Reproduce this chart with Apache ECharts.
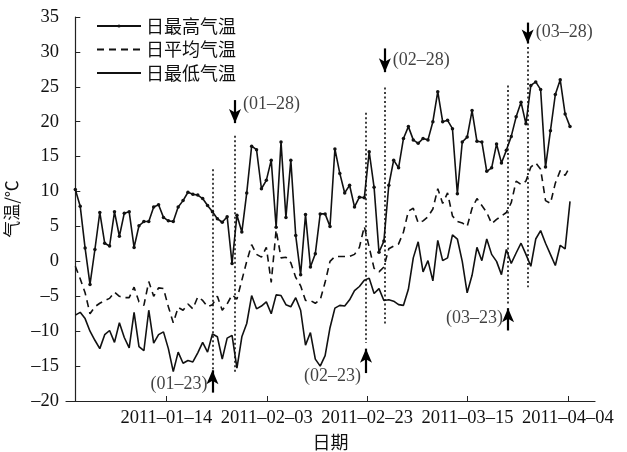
<!DOCTYPE html>
<html>
<head>
<meta charset="utf-8">
<script src="https://cdn.jsdelivr.net/npm/echarts@6/dist/echarts.min.js"></script>
<style>
  html, body { margin: 0; padding: 0; background: #fff; }
  #chart { width: 627px; height: 452px; }
</style>
</head>
<body>
<div id="chart"></div>
<script>
// Daily temperatures, one value per day (index 0 = first day of the record)
const seriesNames = ['日最高气温', '日平均气温', '日最低气温'];

const tMax = [10.3, 7.9, 1.9, -3.3, 1.7, 7.0, 2.6, 2.2, 7.1, 3.6,
  6.9, 7.1, 2.0, 5.1, 5.7, 5.7, 7.8, 8.1, 6.3, 5.8,
  5.7, 7.8, 8.7, 9.9, 9.6, 9.5, 9.0, 8.0, 7.1, 6.1,
  5.6, 6.4, -0.3, 6.6, 4.2, 9.8, 16.5, 16.0, 10.4, 11.6,
  14.5, 4.9, 17.1, 6.3, 14.5, 3.7, -1.9, 6.7, -0.8, 1.1,
  6.8, 6.8, 5.0, 16.1, 12.6, 9.8, 10.9, 7.8, 9.2, 9.1,
  15.7, 10.6, 1.3, 2.9, 10.9, 14.5, 13.4, 17.6, 19.3, 17.4,
  16.9, 17.6, 17.4, 20.0, 24.3, 20.0, 20.2, 19.0, 9.7, 17.1,
  17.8, 21.6, 17.2, 17.1, 12.9, 13.4, 16.8, 14.1, 15.9, 17.9,
  20.7, 22.8, 19.7, 25.2, 25.7, 24.6, 13.5, 18.7, 23.9, 26.0,
  21.1, 19.3];

const tMean = [-0.7, -2.5, -4.5, -7.5, -6.5, -6.0, -5.6, -5.3, -4.4, -5.0,
  -5.2, -5.2, -3.7, -5.8, -6.3, -2.9, -5.0, -3.8, -3.9, -6.5,
  -8.8, -6.6, -7.0, -6.1, -6.8, -5.1, -5.6, -6.5, -6.2, -5.0,
  -7.0, -6.1, -4.8, -5.4, -2.7, 0.0, 2.4, 1.0, 0.6, 2.0,
  -3.0, 4.5, 0.5, 0.6, -0.2, -2.3, -3.5, -5.6, -5.6, -6.0,
  -5.5, -3.0, 0.0, 0.7, 0.7, 0.7, 0.7, 1.0, 2.0, 5.0,
  2.0, -1.0, -1.5, -0.8, 1.8, 2.2, 2.5, 4.2, 7.2, 7.6,
  5.5, 5.8, 6.4, 7.5, 10.4, 8.3, 9.8, 6.5, 5.7, 5.5,
  5.0, 7.6, 9.0, 8.0, 7.0, 5.4, 6.0, 6.5, 7.0, 8.4,
  11.5, 11.0, 11.5, 13.5, 14.1, 13.2, 8.7, 8.3, 11.2, 13.0,
  12.3, 13.6];

const tMin = [-7.7, -7.3, -8.2, -10.0, -11.3, -12.5, -10.5, -9.9, -11.6, -8.8,
  -10.9, -12.4, -7.3, -12.2, -12.8, -7.0, -11.7, -10.5, -10.1, -12.5,
  -15.8, -13.0, -14.6, -14.2, -14.4, -13.1, -11.6, -13.0, -10.4, -10.8,
  -14.0, -11.0, -10.6, -15.3, -10.8, -8.9, -4.9, -6.8, -6.4, -5.8,
  -7.5, -4.8, -4.9, -6.2, -6.5, -5.2, -7.0, -12.0, -10.2, -14.0,
  -15.0, -13.5, -9.5, -6.7, -6.3, -6.4, -5.5, -4.2, -3.6, -2.7,
  -2.4, -4.6, -3.9, -5.6, -5.5, -5.7, -6.2, -6.3, -4.0, 0.5,
  2.8, -1.5, 0.1, -2.8, 3.0, 0.1, 0.5, 3.8, 3.2, 0.0,
  -4.5, -2.0, 2.0, 0.1, 3.2, 1.0, 0.0, -1.9, 1.7, -0.3,
  1.2, 2.6, 1.0, -0.7, 3.2, 4.4, 2.6, 1.0, -0.6, 2.3,
  1.8, 8.6];

// Date axis: days counted from 2010-12-25, labelled every 20 days
const tickDays = [20, 40, 60, 80, 100];
const tickLabels = ['2011–01–14', '2011–02–03', '2011–02–23', '2011–03–15', '2011–04–04'];

// Marked events: dotted guide, arrow and date label
const markLabels = ['(01–23)', '(01–28)', '(02–23)', '(02–28)', '(03–23)', '(03–28)'];
const markPos = [28.0, 32.6, 59.35, 63.2, 88.35, 92.35];
const guideTop = [13.2, 18.0, 21.3, 24.9, 25.2, 30.7];
const guideBottom = [-15.6, -16.0, -11.7, -9.2, -6.3, -3.7];
const arrowTail = [-18.8, 23.1, -16.0, 30.5, -9.9, 34.2];
const arrowTip = [-15.6, 19.8, -12.5, 27.1, -6.7, 31.2];
const labelY = [-17.6, 22.5, -16.5, 28.8, -8.2, 32.8];

const pairs = arr => arr.map((v, i) => [i, v]);
const serif = 'Liberation Serif';
const cjk = 'Noto Sans CJK SC';

const guides = markPos.map((x, i) => [
  { coord: [x, guideTop[i]] },
  { coord: [x, guideBottom[i]] }
]);
const arrows = markPos.map((x, i) => [
  { coord: [x, arrowTail[i]] },
  { coord: [x, arrowTip[i]] }
]);
const labelPoints = markPos.map((x, i) => ({
  value: [x, labelY[i]],
  label: { position: arrowTip[i] > arrowTail[i] ? 'left' : 'right',
           distance: arrowTip[i] > arrowTail[i] ? 5 : 8 },
  name: markLabels[i]
}));

const chart = echarts.init(document.getElementById('chart'));
chart.setOption({
  animation: false,
  backgroundColor: '#fff',
  grid: { left: 66, right: 32, top: 17, bottom: 51, containLabel: false, outerBoundsMode: 'none' },
  legend: {
    data: [
      { name: seriesNames[0] },
      { name: seriesNames[1], itemStyle: { opacity: 0 } },
      { name: seriesNames[2], itemStyle: { opacity: 0 } }
    ],
    orient: 'vertical',
    left: 91,
    top: 12,
    itemWidth: 44,
    itemHeight: 4,
    itemGap: 5.5,
    textStyle: { fontFamily: cjk, fontSize: 18, lineHeight: 18, color: '#111' },
    selectedMode: false
  },
  xAxis: [
    { // day index for the data
      type: 'value', min: -1.9, max: 106.1, show: false
    },
    { // calendar labels
      type: 'value', min: 0, max: 105.4, interval: 20,
      position: 'bottom',
      name: '日期', nameLocation: 'middle', nameGap: 30,
      nameTextStyle: { fontFamily: cjk, fontSize: 18, color: '#111' },
      axisLine: { show: true, onZero: false, lineStyle: { color: '#222', width: 1.2 } },
      axisTick: { show: true, inside: true, length: 5, lineStyle: { color: '#222' } },
      splitLine: { show: false },
      axisLabel: {
        fontFamily: serif, fontSize: 18.5, color: '#111', margin: 8,
        showMinLabel: false, showMaxLabel: false,
        formatter: v => { const k = tickDays.indexOf(v); return k >= 0 ? tickLabels[k] : ''; }
      }
    }
  ],
  yAxis: {
    type: 'value', min: -20, max: 35, interval: 5,
    name: '气温/℃', nameLocation: 'middle', nameGap: 40, nameRotate: 90,
    nameTextStyle: { fontFamily: cjk, fontSize: 17, color: '#111' },
    axisLine: { show: true, lineStyle: { color: '#222', width: 1.2 } },
    axisTick: { show: true, inside: true, length: 5, lineStyle: { color: '#222' } },
    splitLine: { show: false },
    axisLabel: {
      fontFamily: serif, fontSize: 18.5, color: '#111', margin: 7,
      formatter: v => (v < 0 ? '–' + Math.abs(v) : String(v))
    }
  },
  series: [
    {
      name: seriesNames[0], type: 'line', xAxisIndex: 0, data: pairs(tMax),
      symbol: 'circle', symbolSize: 3.5, showSymbol: true,
      lineStyle: { color: '#111', width: 1.6 },
      itemStyle: { color: '#111' }
    },
    {
      name: seriesNames[1], type: 'line', xAxisIndex: 0, data: pairs(tMean),
      symbol: 'none',
      lineStyle: { color: '#111', width: 1.6, type: [7, 5] },
      itemStyle: { color: '#111' }
    },
    {
      name: seriesNames[2], type: 'line', xAxisIndex: 0, data: pairs(tMin),
      symbol: 'none',
      lineStyle: { color: '#111', width: 1.6 },
      itemStyle: { color: '#111' }
    },
    {
      name: 'guides', type: 'line', xAxisIndex: 0, data: [], silent: true,
      markLine: {
        silent: true, symbol: ['none', 'none'], animation: false,
        label: { show: false },
        lineStyle: { color: '#111', width: 1.6, type: [2, 2.5] },
        emphasis: { disabled: true },
        data: guides
      }
    },
    {
      name: 'arrows', type: 'line', xAxisIndex: 0, data: [], silent: true,
      markLine: {
        silent: true, symbol: ['none', 'arrow'], symbolSize: [9, 14], animation: false,
        label: { show: false },
        lineStyle: { color: '#000', width: 2.2, type: 'solid' },
        emphasis: { disabled: true },
        data: arrows
      }
    },
    {
      name: 'dates', type: 'scatter', xAxisIndex: 0, symbolSize: 0, silent: true,
      data: labelPoints,
      label: {
        show: true, formatter: p => p.name,
        fontFamily: serif, fontSize: 18, color: '#111'
      }
    }
  ]
});
</script>
</body>
</html>
